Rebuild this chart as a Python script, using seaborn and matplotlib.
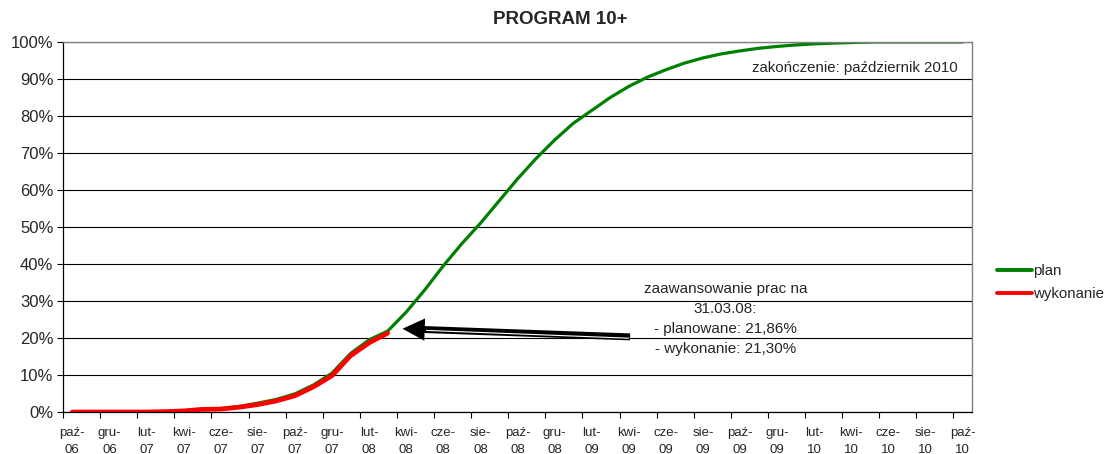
import pandas as pd
import matplotlib
matplotlib.use("Agg")
import matplotlib.pyplot as plt
from matplotlib.patches import FancyArrowPatch
import seaborn as sns

# data (percent, one value per month)
months = ["paź-\n06", "lis-\n06", "gru-\n06", "sty-\n07", "lut-\n07", "mar-\n07", "kwi-\n07",
          "maj-\n07", "cze-\n07", "lip-\n07", "sie-\n07", "wrz-\n07", "paź-\n07", "lis-\n07",
          "gru-\n07", "sty-\n08", "lut-\n08", "mar-\n08", "kwi-\n08", "maj-\n08", "cze-\n08",
          "lip-\n08", "sie-\n08", "wrz-\n08", "paź-\n08", "lis-\n08", "gru-\n08", "sty-\n09",
          "lut-\n09", "mar-\n09", "kwi-\n09", "maj-\n09", "cze-\n09", "lip-\n09", "sie-\n09",
          "wrz-\n09", "paź-\n09", "lis-\n09", "gru-\n09", "sty-\n10", "lut-\n10", "mar-\n10",
          "kwi-\n10", "maj-\n10", "cze-\n10", "lip-\n10", "sie-\n10", "wrz-\n10", "paź-\n10"]
plan = [0, 0, 0, 0, 0, 0.1, 0.3, 0.8, 0.9, 1.5, 2.4, 3.4, 4.9, 7.3, 10.5, 15.8, 19.5, 21.86,
        27, 33, 39.5, 45.5, 51, 57, 63, 68.5, 73.5, 78, 81.5, 85, 88, 90.5, 92.5, 94.3, 95.7,
        96.8, 97.6, 98.3, 98.8, 99.2, 99.5, 99.7, 99.85, 100, 100, 100, 100, 100, 100]
wykonanie = [0, 0, 0, 0, 0, 0.1, 0.3, 0.7, 0.8, 1.3, 2.0, 3.0, 4.4, 6.8, 9.8, 15.2, 18.7, 21.3]

df = pd.concat([
    pd.DataFrame({"m": range(len(plan)), "val": plan, "seria": "plan"}),
    pd.DataFrame({"m": range(len(wykonanie)), "val": wykonanie, "seria": "wykonanie"}),
])

sns.set_style("white")
plt.rcParams["font.family"] = ["Liberation Sans", "DejaVu Sans"]

fig = plt.figure(figsize=(11.06, 4.54), dpi=100)
ax = fig.add_axes([63 / 1106, 42 / 454, (972 - 63) / 1106, 370 / 454])

sns.lineplot(data=df, x="m", y="val", hue="seria", size="seria",
             palette={"plan": "#008000", "wykonanie": "#FF0000"},
             sizes={"plan": 2.3, "wykonanie": 3.4}, ax=ax, legend=False)

ax.set_xlim(-0.5, len(months) - 0.5)
ax.set_ylim(0, 100)
ax.set_yticks(range(0, 101, 10))
ax.set_yticklabels([f"{v}%" for v in range(0, 101, 10)], fontsize=12)
ax.yaxis.grid(True, color="black", lw=0.8)
ax.tick_params(axis="y", left=True, length=4, width=0.8, color="black", pad=3)

ax.set_xticks(range(0, len(months), 2))
ax.set_xticklabels(months[::2], fontsize=9.5, linespacing=1.55)
ax.set_xticks([i - 0.5 for i in range(0, len(months) + 1, 2)], minor=True)
ax.tick_params(axis="x", which="major", length=0, pad=11)
ax.tick_params(axis="x", which="minor", bottom=True, length=4, width=0.8, color="black")
ax.set_xlabel("")
ax.set_ylabel("")

for s in ["left", "bottom"]:
    ax.spines[s].set_color("black")
    ax.spines[s].set_linewidth(0.9)
for s in ["top", "right"]:
    ax.spines[s].set_color("#808080")
    ax.spines[s].set_linewidth(1.0)

fig.text(560 / 1106, 1 - 20 / 454, "PROGRAM 10+", ha="center", va="center",
         fontsize=13.5, fontweight="bold")

ax.text(47.75, 93, "zakończenie: październik 2010", ha="right", va="center", fontsize=10.8)
ax.text(35.2, 25.2, "zaawansowanie prac na\n31.03.08:\n- planowane: 21,86%\n- wykonanie: 21,30%",
        ha="center", va="center", fontsize=11, linespacing=1.55)

# arrow pointing at the 31.03.08 point
arrow = FancyArrowPatch((30.07, 20.3), (17.8, 22.5),
                        arrowstyle="simple,head_length=1.6,head_width=1.6,tail_width=0.5",
                        mutation_scale=10, color="black", lw=0, shrinkA=0, shrinkB=0)
ax.add_patch(arrow)
ax.plot([19.1, 30.0], [22.05, 19.95], color="white", lw=0.8)

handles = [plt.Line2D([], [], color="#008000", lw=2.8),
           plt.Line2D([], [], color="#FF0000", lw=2.8)]
fig.legend(handles, ["plan", "wykonanie"], loc="upper left",
           bbox_to_anchor=(991 / 1106, 1 - 258 / 454), frameon=False, fontsize=10.8,
           handlelength=2.3, handletextpad=0.1, labelspacing=0.6, borderaxespad=0)

fig.savefig("out.png", dpi=100)
